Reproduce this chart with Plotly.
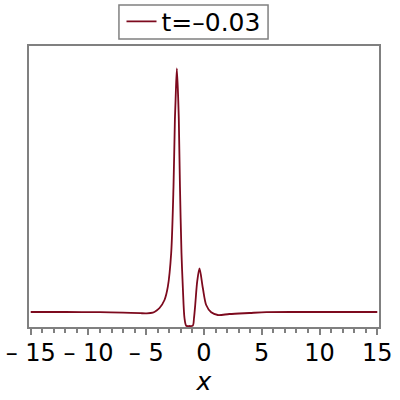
import plotly.graph_objects as go

# curve (y in arbitrary units, baseline = 0)
x_vals = [-15, -12, -9, -7, -5.5, -5, -4.43, -4.1, -3.85, -3.42, -3.13, -2.84,
          -2.64, -2.52, -2.46, -2.35, -2.23, -2.18, -2.08, -1.95, -1.83, -1.69,
          -1.54, -1.25, -0.97, -0.865, -0.76, -0.59, -0.39, -0.10, 0.19, 0.62,
          1.19, 2.2, 3.93, 5.4, 8, 15]
y_vals = [0.0, 0.0, -0.002, -0.006, -0.012, -0.013, -0.007, 0.015, 0.04, 0.12,
          0.253, 0.59, 1.253, 1.92, 2.12, 2.435, 2.12, 1.92, 1.253, 0.59, 0.24,
          -0.06, -0.137, -0.14, -0.137, -0.06, 0.07, 0.303, 0.435, 0.24, 0.07,
          -0.003, -0.03, -0.02, -0.01, -0.002, 0.0, 0.0]

tick_vals = [-15, -10, -5, 0, 5, 10, 15]
tick_text = ["\u2013 15", "\u2013 10", "\u2013 5", "0", "5", "10", "15"]

red = "#7d0a1e"
grey = "#808080"

fig = go.Figure()
fig.add_trace(go.Scatter(x=x_vals, y=y_vals, mode="lines", name="t=\u20130.03",
                         line=dict(color=red, width=1.8, shape="spline", smoothing=0.8)))

fig.update_layout(
    width=400, height=400,
    margin=dict(l=29, r=21, t=46, b=73, autoexpand=False),
    paper_bgcolor="white", plot_bgcolor="white",
    font=dict(family="DejaVu Sans", size=24, color="black"),
    showlegend=True,
    legend=dict(orientation="h", x=0.47, xanchor="center", y=1.087, yanchor="middle",
                bgcolor="rgba(0,0,0,0)", borderwidth=0, itemwidth=30,
                font=dict(size=25), tracegroupgap=0),
)
# tight box around the legend, like the original
fig.add_shape(type="rect", xref="paper", yref="paper",
              x0=0.257, x1=0.683, y0=1.025, y1=1.146,
              line=dict(color=grey, width=1.5), fillcolor="rgba(0,0,0,0)", layer="above")

fig.update_xaxes(range=[-15.15, 15.15], showgrid=False, zeroline=False,
                 showline=True, linecolor=grey, linewidth=2, mirror=True,
                 ticks="outside", ticklen=6, tickcolor=grey, tickwidth=1.5,
                 tickvals=tick_vals, ticktext=tick_text, ticklabelstandoff=-3,
                 minor=dict(dtick=1, tick0=0, ticks="outside", ticklen=4,
                            tickcolor=grey, tickwidth=1.5),
                 title=dict(text="<i>x</i>", standoff=4, font=dict(size=25)))
fig.update_yaxes(range=[-0.15, 2.66], showgrid=False, zeroline=False,
                 showline=True, linecolor=grey, linewidth=2, mirror=True,
                 showticklabels=False, ticks="")

# page has an 8px body margin by default, drop it
fig.write_html("out.html", config={"displayModeBar": False},
               post_script="document.body.style.margin='0';")
